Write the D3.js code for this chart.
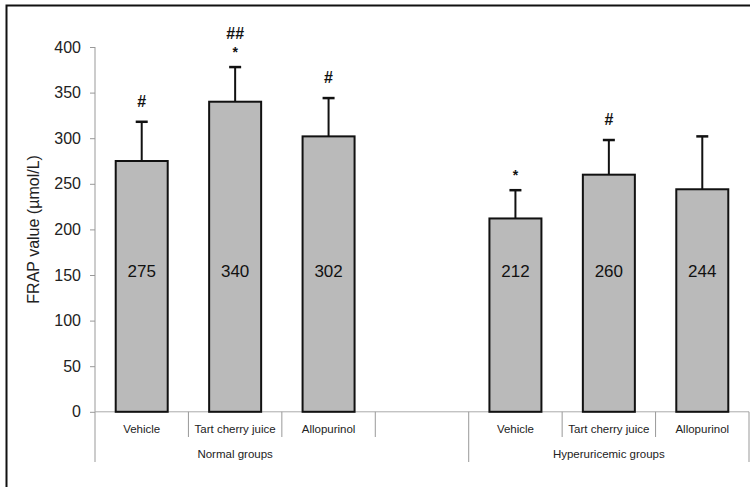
<!DOCTYPE html>
<html><head><meta charset="utf-8">
<script src="https://cdn.jsdelivr.net/npm/d3@7"></script>
<style>body{margin:0;background:#fff}svg{display:block}</style>
</head><body>
<svg id="c" width="750" height="487"></svg>
<script>
const slots = ["N-Vehicle","N-Tart","N-Allo","gap","H-Vehicle","H-Tart","H-Allo"];
const categoryLabels = ["Vehicle","Tart cherry juice","Allopurinol","","Vehicle","Tart cherry juice","Allopurinol"];
const barSlots = ["N-Vehicle","N-Tart","N-Allo","H-Vehicle","H-Tart","H-Allo"];
const means = [275, 340, 302, 212, 260, 244];
const sds = [43, 38, 42, 31, 38, 58];
const marks = [["#"], ["##","*"], ["#"], ["*"], ["#"], []];
const groups = [{name:"Normal groups", from:0, to:3}, {name:"Hyperuricemic groups", from:4, to:7}];
const yTicks = [0,50,100,150,200,250,300,350,400];

const FONT = "Arial, 'Liberation Sans', sans-serif";
const svg = d3.select("#c");
const x = d3.scaleBand().domain(slots).range([95, 749]).paddingInner(0).paddingOuter(0);
const y = d3.scaleLinear().domain([0, 400]).range([411.8, 47]);
const bw = 52;

// frame
svg.append("path").attr("d","M6.5,487 L6.5,5.5 L750,5.5").attr("fill","none").attr("stroke","#111").attr("stroke-width",2);

// y axis
const ya = svg.append("g").attr("transform","translate(95,0)")
  .call(d3.axisLeft(y).tickValues(yTicks).tickSize(5).tickPadding(9));
ya.select(".domain").attr("stroke","#999").attr("d", `M0,${y(400)}V${y(0)}`);
ya.selectAll(".tick line").attr("stroke","#999");
ya.selectAll(".tick text").attr("font-family",FONT).attr("font-size",16).attr("fill","#222");

// baseline
svg.append("line").attr("x1",95).attr("x2",749).attr("y1",y(0)).attr("y2",y(0)).attr("stroke","#aaa");

// separators
const seps = d3.range(slots.length+1).map(i => 95 + i*x.bandwidth());
seps.forEach((sx,i)=>{
  const long = (i===0 || i===4 || i===7);
  svg.append("line").attr("x1",sx).attr("x2",sx).attr("y1",y(0)).attr("y2", long?462:437).attr("stroke","#999");
});

// y label
svg.append("text").attr("transform",`translate(39,${(y(0)+y(400))/2}) rotate(-90)`)
  .attr("text-anchor","middle").attr("font-family",FONT).attr("font-size",16).attr("fill","#222")
  .text("FRAP value (µmol/L)");

// bars
const bars = svg.append("g");
barSlots.forEach((s,i)=>{
  const cx = x(s) + x.bandwidth()/2;
  const top = y(means[i] + sds[i]);
  bars.append("line").attr("x1",cx).attr("x2",cx).attr("y1",y(means[i])).attr("y2",top).attr("stroke","#111").attr("stroke-width",2);
  bars.append("line").attr("x1",cx-6).attr("x2",cx+6).attr("y1",top).attr("y2",top).attr("stroke","#111").attr("stroke-width",2.5);
  bars.append("rect").attr("x",cx-bw/2).attr("y",y(means[i])).attr("width",bw).attr("height",y(0)-y(means[i]))
    .attr("fill","#bababa").attr("stroke","#111").attr("stroke-width",2);
  bars.append("text").attr("x",cx).attr("y",y(150)+1.5).attr("text-anchor","middle")
    .attr("font-family",FONT).attr("font-size",17).attr("fill","#111").text(means[i]);
  const m = marks[i];
  m.forEach((t,k)=>{
    let yy, fs;
    if (t === "*") { yy = top - 10; fs = 14; }
    else if (m.length > 1) { yy = top - 28; fs = 16; }
    else { yy = top - 15; fs = 16; }
    bars.append("text").attr("x",cx).attr("y", yy)
      .attr("text-anchor","middle").attr("font-family",FONT)
      .attr("font-weight","bold").attr("font-size", fs).attr("fill","#111").text(t);
  });
});

// category labels
slots.forEach((s,i)=>{
  svg.append("text").attr("x", x(s)+x.bandwidth()/2).attr("y",433).attr("text-anchor","middle")
    .attr("font-family",FONT).attr("font-size",11.5).attr("fill","#222").text(categoryLabels[i]);
});
groups.forEach(g=>{
  const x0 = 95 + g.from*x.bandwidth(), x1 = 95 + g.to*x.bandwidth();
  svg.append("text").attr("x",(x0+x1)/2).attr("y",458).attr("text-anchor","middle")
    .attr("font-family",FONT).attr("font-size",11.5).attr("fill","#222").text(g.name);
});
</script>
</body></html>
